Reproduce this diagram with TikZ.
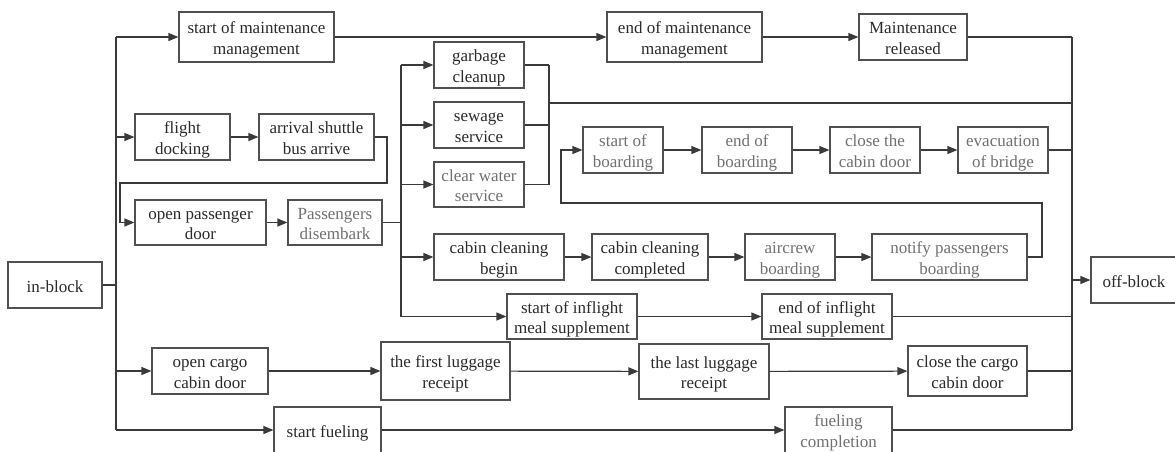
\documentclass[tikz,border=0pt]{standalone}
\usepackage{fontspec}
\setmainfont{Liberation Serif}
\usetikzlibrary{arrows.meta}
\definecolor{linec}{HTML}{3A3A3A}
\definecolor{boxc}{HTML}{505050}
\definecolor{txtdark}{HTML}{2A2A2A}
\definecolor{txtgray}{HTML}{707070}
\tikzset{
  box/.style={draw=boxc, line width=1.2pt, inner sep=0pt,
    text=txtdark, font=\fontsize{17}{20.5}\selectfont},
  grey/.style={text=txtgray},
  link/.style={draw=linec, line width=1.2pt},
  arr/.style={link, -{Triangle[length=10pt,width=8pt]}},
}
% box: name, centre, width, height, text, extra options
% (the label sits a little below the geometric centre of its box)
\newcommand{\bx}[6]{\node[box,#6, minimum width=#3pt, minimum height=#4pt] (#1) at (#2)
  {\raisebox{-3pt}[\height][\depth]{\begin{tabular}{@{}c@{}}#5\end{tabular}}};}
\begin{document}
\begin{tikzpicture}[x=1pt,y=-1pt]
\useasboundingbox (0,0) rectangle (1175,451);
% events
\bx{smm}{256.5,37}{155}{50}{start of maintenance\\management}{}
\bx{emm}{684.5,37}{155}{50}{end of maintenance\\management}{}
\bx{mr}{913,37}{108}{46}{Maintenance\\released}{}
\bx{gc}{479,65}{90}{46}{garbage\\cleanup}{}
\bx{ss}{479,125}{90}{46}{sewage\\service}{}
\bx{cws}{479,184.5}{90}{45}{clear water\\service}{grey}
\bx{sob}{623,150}{80}{46}{start of\\boarding}{grey}
\bx{eob}{747,150}{90}{46}{end of\\boarding}{grey}
\bx{ccd}{875,150}{90}{46}{close the\\cabin door}{grey}
\bx{eb}{1003,150}{90}{46}{evacuation\\of bridge}{grey}
\bx{fd}{182.5,137}{95}{46}{flight\\docking}{}
\bx{asb}{316.5,137}{115}{46}{arrival shuttle\\bus arrive}{}
\bx{opd}{200.5,222.5}{131}{45}{open passenger\\door}{}
\bx{pd}{335,222.5}{94}{45}{Passengers\\disembark}{grey}
\bx{ib}{55,285}{94}{46}{in-block}{}
\bx{ccb}{499,257}{130}{46}{cabin cleaning\\begin}{}
\bx{ccc}{650,257}{116}{46}{cabin cleaning\\completed}{}
\bx{ab}{790,257}{90}{46}{aircrew\\boarding}{grey}
\bx{npb}{949.5,257}{155}{46}{notify passengers\\boarding}{grey}
\bx{sim}{572,316.5}{130}{45}{start of inflight\\meal supplement}{}
\bx{eim}{827,316.5}{130}{45}{end of inflight\\meal supplement}{}
\bx{ocd}{210,371}{116}{46}{open cargo\\cabin door}{}
\bx{flr}{445.5,371}{129}{58}{the first luggage\\receipt}{}
\bx{llr}{704,371.5}{130}{55}{the last luggage\\receipt}{}
\bx{cgd}{967.5,371}{119}{50}{close the cargo\\cabin door}{}
\bx{sf}{327.5,430}{107}{46}{start fueling}{}
\bx{fc}{838.5,430}{107}{46}{fueling\\completion}{grey}
\bx{ob}{1134,280}{86}{46}{off-block}{}
% junction points
\coordinate (lt) at (116,37);
\coordinate (lb) at (116,430);
\coordinate (bt) at (401,65);
\coordinate (bb) at (401,316.5);
\coordinate (mt) at (549,65);
\coordinate (mb) at (549,184.5);
\coordinate (rt) at (1072,37);
\coordinate (rb) at (1072,430);
% left trunk from in-block
\draw[link] (ib.east) -- (116,285);
\draw[link] (lt) -- (lb);
\draw[arr] (lt) -- (smm.west);
\draw[arr] (116,137) -- (fd.west);
\draw[arr] (116,371) -- (ocd.west);
\draw[arr] (lb) -- (sf.west);
% passenger arrival
\draw[arr] (fd) -- (asb);
\draw[arr] (asb.east) -- (387,137) -- (387,183) -- (120,183) -- (120,222.5) -- (opd.west);
\draw[arr] (opd) -- (pd);
% service branch after disembarking
\draw[link] (pd.east) -- (401,222.5);
\draw[link] (bt) -- (bb);
\draw[arr] (bt) -- (gc.west);
\draw[arr] (401,125) -- (ss.west);
\draw[arr] (401,184.5) -- (cws.west);
\draw[arr] (401,257) -- (ccb.west);
\draw[arr] (bb) -- (sim.west);
% water and waste services merge
\draw[link] (gc.east) -- (mt);
\draw[link] (ss.east) -- (549,125);
\draw[link] (cws.east) -- (mb);
\draw[link] (mt) -- (mb);
\draw[link] (549,103) -- (1072,103);
% maintenance
\draw[arr] (smm) -- (emm);
\draw[arr] (emm) -- (mr);
\draw[link] (mr.east) -- (rt);
% cabin and boarding
\draw[arr] (ccb) -- (ccc);
\draw[arr] (ccc) -- (ab);
\draw[arr] (ab) -- (npb);
\draw[arr] (npb.east) -- (1042,257) -- (1042,203) -- (561,203) -- (561,150) -- (sob.west);
\draw[arr] (sob) -- (eob);
\draw[arr] (eob) -- (ccd);
\draw[arr] (ccd) -- (eb);
\draw[link] (eb.east) -- (1072,150);
% catering
\draw[arr] (sim) -- (eim);
\draw[link] (eim.east) -- (1072,316.5);
% cargo
\draw[arr] (ocd) -- (flr);
\draw[arr] (flr) -- (llr);
\draw[arr] (llr) -- (cgd);
\draw[link] (cgd.east) -- (1072,371);
% fueling
\draw[arr] (sf) -- (fc);
\draw[link] (fc.east) -- (rb);
% right trunk to off-block
\draw[link] (rt) -- (rb);
\draw[arr] (1072,280) -- (ob.west);
\end{tikzpicture}
\end{document}
